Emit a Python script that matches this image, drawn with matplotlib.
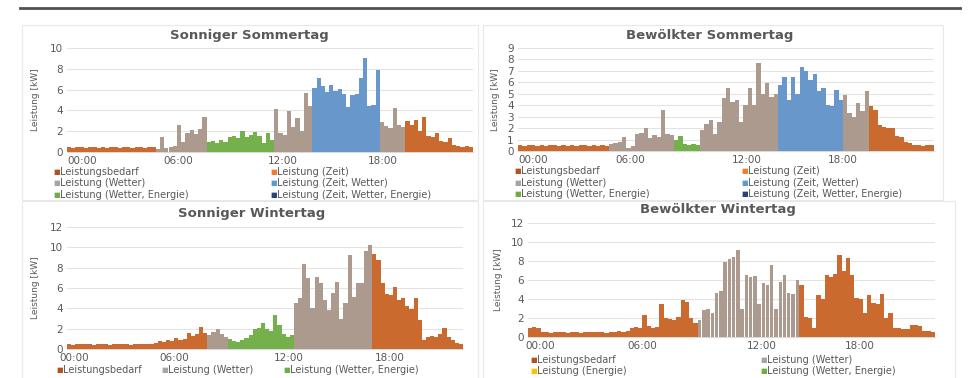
import matplotlib
matplotlib.use("Agg")
import matplotlib.pyplot as plt
from matplotlib.patches import Rectangle
from matplotlib.lines import Line2D

plt.rcParams['font.family'] = ['DejaVu Sans']

# ---------------- data (15-minute values, kW) ----------------
tick_labels = ["00:00", "06:00", "12:00", "18:00"]

so_title = "Sonniger Sommertag"
so_values = [
    0.5, 0.4, 0.5, 0.45, 0.4, 0.5, 0.45, 0.4, 0.5, 0.4, 0.45, 0.5,
    0.4, 0.45, 0.5, 0.4, 0.45, 0.5, 0.4, 0.45, 0.45, 0.3, 1.4, 0.4,
    0.5, 0.6, 2.6, 1.0, 1.8, 2.1, 1.7, 2.2, 3.4, 1.0, 1.1, 0.9,
    1.2, 1.0, 1.4, 1.5, 1.3, 2.0, 1.4, 1.6, 1.9, 1.5, 0.9, 1.8,
    1.2, 4.1, 1.8, 1.6, 3.9, 2.4, 3.3, 2.0, 5.7, 4.4, 6.2, 7.1,
    6.3, 5.8, 6.4, 5.9, 6.1, 5.6, 4.3, 5.5, 5.6, 7.1, 9.0, 4.4,
    4.5, 7.9, 2.9, 2.5, 2.3, 4.2, 2.6, 2.4, 3.0, 2.6, 3.1, 2.0,
    3.4, 1.5, 1.4, 1.8, 1.1, 1.0, 1.3, 0.7, 0.6, 0.5, 0.6, 0.5,
]
# (series, number of consecutive values)
so_segments = [("Leistungsbedarf", 21), ("Leistung (Wetter)", 12),
               ("Leistung (Wetter, Energie)", 16), ("Leistung (Wetter)", 9),
               ("Leistung (Zeit, Wetter)", 16), ("Leistung (Wetter)", 6),
               ("Leistungsbedarf", 16)]
so_legend = ["Leistungsbedarf", "Leistung (Zeit)", "Leistung (Wetter)",
             "Leistung (Zeit, Wetter)", "Leistung (Wetter, Energie)",
             "Leistung (Zeit, Wetter, Energie)"]

bs_title = "Bewölkter Sommertag"
bs_values = [
    0.5, 0.45, 0.5, 0.5, 0.45, 0.5, 0.45, 0.5, 0.5, 0.45, 0.5, 0.45,
    0.5, 0.45, 0.5, 0.5, 0.45, 0.5, 0.45, 0.5, 0.45, 0.6, 0.7, 0.8,
    1.2, 0.3, 0.4, 1.5, 1.6, 2.0, 1.1, 1.4, 1.2, 3.6, 1.5, 1.4,
    1.0, 1.3, 0.6, 0.5, 0.6, 0.5, 1.8, 2.4, 2.7, 1.5, 2.5, 4.6,
    5.5, 4.3, 4.5, 2.5, 4.0, 5.5, 4.0, 7.7, 5.0, 5.9, 4.7, 5.0,
    5.8, 6.5, 4.5, 6.5, 5.0, 7.3, 7.0, 6.2, 6.7, 5.2, 5.5, 4.0,
    3.9, 5.3, 4.5, 4.9, 3.3, 3.0, 4.2, 3.5, 5.2, 3.9, 3.6, 2.3,
    2.1, 2.0, 2.0, 1.3, 1.2, 0.8, 0.7, 0.5, 0.5, 0.45, 0.5, 0.5,
]
bs_segments = [("Leistungsbedarf", 21), ("Leistung (Wetter)", 15),
               ("Leistung (Wetter, Energie)", 6), ("Leistung (Wetter)", 18),
               ("Leistung (Zeit, Wetter)", 15), ("Leistung (Wetter)", 6),
               ("Leistungsbedarf", 15)]
bs_legend = so_legend

sw_title = "Sonniger Wintertag"
sw_values = [
    0.5, 0.4, 0.5, 0.45, 0.5, 0.45, 0.4, 0.5, 0.45, 0.5, 0.4, 0.5,
    0.5, 0.45, 0.5, 0.4, 0.5, 0.45, 0.5, 0.5, 0.5, 0.6, 0.8, 0.7,
    0.9, 0.8, 1.1, 0.9, 1.0, 1.6, 1.3, 1.5, 2.2, 1.6, 1.4, 1.7,
    2.0, 1.5, 1.2, 1.0, 0.8, 0.7, 0.9, 1.1, 1.4, 2.0, 2.1, 2.6,
    2.0, 1.8, 3.3, 2.4, 1.5, 1.2, 1.4, 4.5, 5.0, 8.4, 7.0, 4.0,
    7.1, 6.5, 4.8, 3.8, 5.5, 6.6, 3.0, 4.5, 9.2, 5.1, 6.5, 6.5,
    9.6, 10.2, 9.3, 8.8, 6.5, 5.4, 5.3, 6.1, 4.8, 5.0, 4.2, 3.9,
    5.0, 2.9, 0.9, 1.2, 1.3, 1.2, 1.5, 2.1, 1.2, 0.9, 0.6, 0.5,
]
sw_segments = [("Leistungsbedarf", 34), ("Leistung (Wetter)", 5),
               ("Leistung (Wetter, Energie)", 16), ("Leistung (Wetter)", 19),
               ("Leistungsbedarf", 22)]
sw_legend = ["Leistungsbedarf", "Leistung (Wetter)", "Leistung (Wetter, Energie)"]

bw_title = "Bewölkter Wintertag"
bw_values = [
    1.0, 1.1, 0.9, 0.5, 0.5, 0.45, 0.5, 0.5, 0.5, 0.45, 0.5, 0.5,
    0.45, 0.5, 0.5, 0.5, 0.5, 0.5, 0.45, 0.5, 0.5, 0.6, 0.5, 0.6,
    0.9, 1.1, 1.0, 2.3, 1.2, 1.0, 1.1, 3.5, 2.0, 1.9, 1.8, 2.1,
    3.9, 3.7, 2.0, 1.5, 1.8, 2.8, 3.0, 2.5, 4.6, 4.8, 7.9, 8.2,
    8.4, 9.2, 3.0, 6.5, 6.3, 6.4, 3.5, 5.7, 5.5, 7.6, 3.0, 5.8,
    6.5, 4.6, 4.5, 6.0, 5.5, 2.1, 2.0, 1.0, 4.4, 4.0, 6.5, 6.3,
    6.6, 8.6, 7.0, 8.3, 6.5, 4.1, 4.0, 2.5, 4.4, 3.6, 3.5, 4.5,
    2.0, 2.5, 1.0, 0.9, 0.8, 0.8, 1.3, 1.3, 1.2, 0.6, 0.6, 0.5,
]
bw_segments = [("Leistungsbedarf", 40), ("Leistung (Wetter)", 24),
               ("Leistungsbedarf", 32)]
bw_legend = ["Leistungsbedarf", "Leistung (Wetter)", "Leistung (Energie)",
             "Leistung (Wetter, Energie)"]

# ---------------- styling ----------------
bar_colors = {
    "Leistungsbedarf": "#CB6A2F",
    "Leistung (Zeit)": "#ED7D31",
    "Leistung (Wetter)": "#AD9A8F",
    "Leistung (Zeit, Wetter)": "#6797CB",
    "Leistung (Wetter, Energie)": "#74B04C",
    "Leistung (Zeit, Wetter, Energie)": "#264478",
    "Leistung (Energie)": "#FFC000",
}
legend_colors = {
    "Leistungsbedarf": "#B35220",
    "Leistung (Zeit)": "#ED7D31",
    "Leistung (Wetter)": "#A5A5A5",
    "Leistung (Zeit, Wetter)": "#5B9BD5",
    "Leistung (Wetter, Energie)": "#70AD47",
    "Leistung (Zeit, Wetter, Energie)": "#264478",
    "Leistung (Energie)": "#FFC000",
}
TXT = "#595959"
W, H = 969, 378

fig = plt.figure(figsize=(W / 100, H / 100), dpi=100)


def fx(px):
    return px / W


def fy(py):
    return 1 - py / H


# top rule
fig.add_artist(Line2D([fx(20), fx(960)], [fy(8), fy(8)], color="#505050", lw=2))

# chart area frames
for (x0, y0, x1, y1) in [(22, 25, 478, 200), (483, 25, 943, 200),
                         (22, 201, 478, 380), (483, 201, 955, 380)]:
    fig.add_artist(Rectangle((fx(x0), fy(y1)), fx(x1) - fx(x0), fy(y0) - fy(y1),
                             fill=False, ec="#E8E8E8", lw=0.8))


def panel(rect_px, values, segments, ymax, ystep, title, title_xy, tick_fracs,
          ylabel_x, legend_items, legend_cols, legend_rows_y, gap=None):
    x0, y0, x1, y1 = rect_px
    ax = fig.add_axes([fx(x0), fy(y1), fx(x1) - fx(x0), fy(y0) - fy(y1)])
    n = len(values)
    idx = 0
    for name, cnt in segments:
        xs = [i + 0.5 for i in range(idx, idx + cnt)]
        w = 1.0
        if gap is not None and name in gap:
            w = gap[name]
        ax.bar(xs, values[idx:idx + cnt], width=w, color=bar_colors[name],
               linewidth=0, zorder=3)
        idx += cnt
    ax.set_xlim(0, n)
    ax.set_ylim(0, ymax)
    ax.set_yticks([v for v in range(0, ymax + 1, ystep)])
    ax.yaxis.grid(True, color="#E3E3E3", lw=0.8, zorder=0)
    ax.set_xticks([f * n for f in tick_fracs])
    ax.set_xticklabels(tick_labels)
    ax.tick_params(axis="both", length=0, labelsize=7.5, colors=TXT, pad=3)
    for s in ["top", "right", "left"]:
        ax.spines[s].set_visible(False)
    ax.spines["bottom"].set_color("#D9D9D9")
    ax.set_facecolor("none")
    fig.text(fx(title_xy[0]), fy(title_xy[1]), title, ha="center", va="center",
             fontsize=9.5, fontweight="bold", color=TXT)
    fig.text(fx(ylabel_x), (fy(y0) + fy(y1)) / 2, "Leistung [kW]", rotation=90,
             ha="center", va="center", fontsize=6.5, color=TXT)
    k = 0
    for ry in legend_rows_y:
        for cx in legend_cols:
            if k >= len(legend_items):
                break
            name = legend_items[k]
            fig.text(fx(cx), fy(ry), "■", color=legend_colors[name], fontsize=5,
                     ha="left", va="center")
            fig.text(fx(cx + 7), fy(ry), name, color=TXT, fontsize=7,
                     ha="left", va="center")
            k += 1
    return ax


panel((67, 48, 473, 152), so_values, so_segments, 10, 2, so_title, (249, 36),
      [0.037, 0.273, 0.532, 0.778], 35, so_legend, [53, 270], [172, 183, 195])
panel((518, 48, 934, 151), bs_values, bs_segments, 9, 1, bs_title, (710, 36),
      [0.036, 0.27, 0.55, 0.78], 495, bs_legend, [514, 741], [171, 183, 194])
panel((67, 227, 463, 349), sw_values, sw_segments, 12, 2, sw_title, (252, 213),
      [0.018, 0.27, 0.56, 0.815], 35, sw_legend, [56, 161, 283], [370])
panel((528, 223, 935, 337), bw_values, bw_segments, 12, 2, bw_title, (718, 210),
      [0.03, 0.28, 0.575, 0.816], 498, bw_legend, [530, 760], [360, 371],
      gap={"Leistung (Wetter)": 0.8})

fig.savefig("out.png", dpi=100, facecolor="white")
